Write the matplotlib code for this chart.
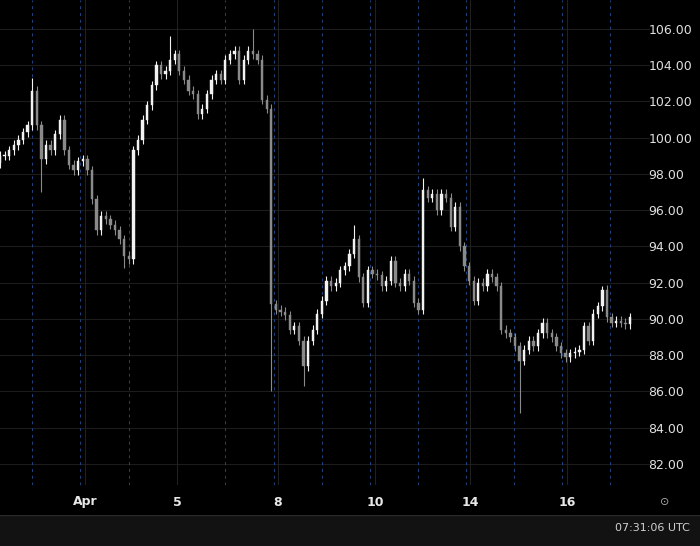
import matplotlib
matplotlib.use("Agg")
import matplotlib.pyplot as plt
import numpy as np

# close prices, roughly one every 5 px across the chart
closes = [
    99.0, 99.0, 99.3, 99.6, 99.9, 100.3, 100.7, 102.6, 100.7, 98.8,
    99.6, 99.3, 100.2, 101.0, 99.3, 98.5, 98.2, 98.7, 98.8, 98.2,
    96.6, 94.9, 95.7, 95.5, 95.2, 94.9, 94.4, 93.5, 93.3, 99.3,
    99.9, 101.0, 101.8, 102.9, 104.0, 103.5, 103.7, 104.3, 104.6, 103.7,
    103.2, 102.6, 102.4, 101.3, 101.6, 102.4, 103.2, 103.5, 103.2, 104.3,
    104.6, 104.8, 103.2, 104.3, 104.8, 104.6, 104.3, 102.1, 101.6, 90.8,
    90.5, 90.4, 90.2, 89.4, 89.6, 88.8, 87.4, 88.8, 89.4, 90.3,
    91.0, 92.1, 91.8, 92.0, 92.7, 92.9, 93.6, 94.4, 92.3, 90.9,
    92.7, 92.5, 92.4, 91.8, 92.1, 93.2, 92.0, 91.8, 92.5, 92.1,
    90.9, 90.5, 97.1, 96.7, 96.9, 96.0, 96.9, 96.7, 95.1, 96.2,
    94.0, 92.9, 92.1, 91.0, 92.0, 91.8, 92.5, 92.3, 91.8, 89.4,
    89.2, 89.0, 88.5, 87.7, 88.3, 88.8, 88.5, 89.2, 89.8, 89.2,
    89.0, 88.5, 88.1, 87.9, 88.1, 88.2, 88.3, 89.6, 88.8, 90.3,
    90.7, 91.6, 90.1, 89.8, 89.9, 89.8, 89.7, 90.1,
]
first_open = 98.6
# notable wick extremes {candle index: price}
high_spikes = {7: 103.3, 37: 105.6, 55: 106.0, 77: 95.2, 92: 97.8, 131: 91.8}
low_spikes = {27: 92.8, 59: 86.0, 66: 86.3, 113: 84.8, 9: 97.0}

ticklabels = ["Apr", "5", "8", "10", "14", "16"]
ticklabel_px = [85, 177, 278, 375, 470, 567]
dashed_px = [32, 80, 129, 177, 225, 274, 322, 370, 418, 466, 514, 562, 610]
yticks = np.arange(82, 107, 2)

n = len(closes)
step = 630 / (n - 1)  # px per candle
px = lambda p: p / step

opens = [first_open] + closes[:-1]
highs = [max(o, c) + 0.25 for o, c in zip(opens, closes)]
lows = [min(o, c) - 0.25 for o, c in zip(opens, closes)]
for i, v in high_spikes.items():
    highs[i] = v
for i, v in low_spikes.items():
    lows[i] = v

fig = plt.figure(figsize=(7, 5.46), dpi=100, facecolor="black")
ax = fig.add_axes([0, 61 / 546, 650 / 700, 485 / 546], facecolor="black")

for y in yticks:
    ax.axhline(y, color="#1c1c1c", lw=0.8, zorder=0)
for p in dashed_px:
    ax.axvline(px(p), color="#1f4680", lw=0.7, ls=(0, (3, 4)), zorder=0)
for p in ticklabel_px:
    ax.axvline(px(p), color="#222222", lw=0.7, zorder=0)

for i, (o, h, l, c) in enumerate(zip(opens, highs, lows, closes)):
    col = "#f2f2f2" if c >= o else "#8a8a8a"
    ax.vlines(i, l, h, color=col, lw=0.8, zorder=2)
    ax.bar(i, max(abs(c - o), 0.05), bottom=min(o, c), width=0.5,
           color=col, edgecolor=col, linewidth=0.3, zorder=3)

ax.set_xlim(0, px(650))
ax.set_ylim(106 - 456 / 18.125, 106 + 29 / 18.125)
ax.yaxis.tick_right()
ax.set_yticks(yticks)
ax.set_yticklabels([f"{v:.2f}" for v in yticks], color="#e0e0e0", fontsize=9)
ax.tick_params(axis="y", length=0, pad=-1)
ax.set_xticks([])
for s in ax.spines.values():
    s.set_visible(False)

for lab, p in zip(ticklabels, ticklabel_px):
    fig.text(p / 700, 1 - 502 / 546, lab, color="#e8e8e8", fontsize=9,
             ha="center", va="center", fontweight="bold")
fig.text(665 / 700, 1 - 502 / 546, "⊙", color="#aaaaaa", fontsize=8,
         ha="center", va="center")

bar = fig.add_axes([0, 0, 1, 31 / 546], facecolor="#121212")
bar.set_xticks([])
bar.set_yticks([])
for s in bar.spines.values():
    s.set_visible(False)
bar.axhline(1, color="#2a2a2a", lw=1)
fig.text(690 / 700, 1 - 528 / 546, "07:31:06 UTC", color="#d0d0d0",
         fontsize=8, ha="right", va="center")

fig.savefig("out.png", dpi=100, facecolor="black")
